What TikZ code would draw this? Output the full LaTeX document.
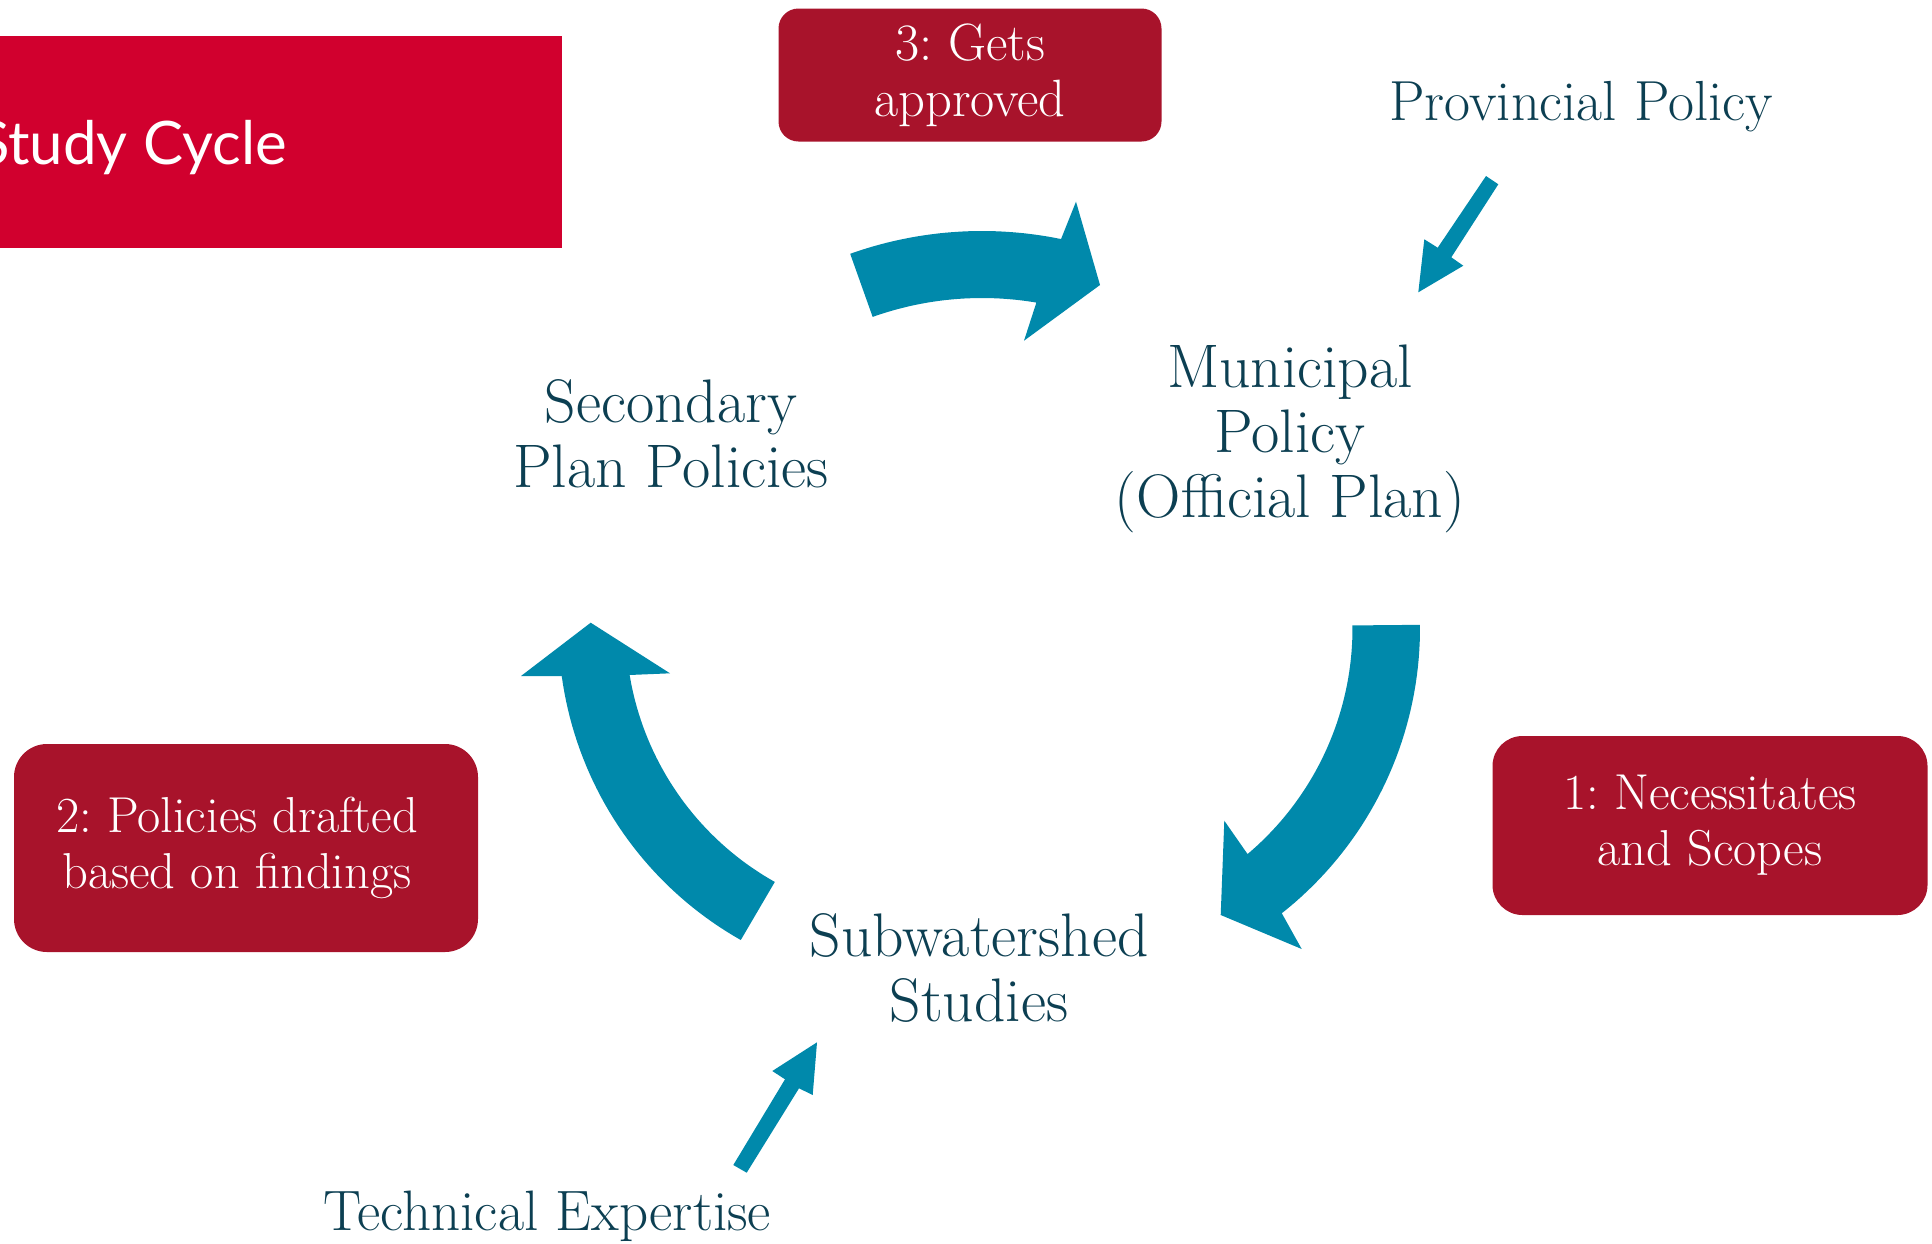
\documentclass[tikz,border=0pt]{standalone}
\usepackage{fontspec}
\newfontfamily\titlefont{Lato}
\definecolor{titlered}{HTML}{D1002E}
\definecolor{boxred}{HTML}{A8132B}
\definecolor{arrowteal}{HTML}{0089AB}
\definecolor{textteal}{HTML}{0C3F52}
\frenchspacing
\tikzset{
  mainlabel/.style={text=textteal, align=center, inner sep=0pt, font=\fontsize{61.5}{65}\selectfont},
  sidelabel/.style={text=textteal, inner sep=0pt},
  stepbox/.style={fill=boxred, text=white, align=center, inner sep=0pt, font=\fontsize{50.5}{56}\selectfont},
  titletext/.style={text=white, inner sep=0pt, font=\titlefont\fontsize{60}{70}\selectfont},
  cyclearrow/.style={fill=arrowteal, draw=none},
  smallarrow/.style={fill=arrowteal, draw=none}
}
\begin{document}
\begin{tikzpicture}[x=1pt, y=-1pt]
\useasboundingbox (0,0) rectangle (1932,1243);

% title banner (clipped at the left page edge)
\begin{scope}
  \clip (0,36) rectangle (562,248);
  \fill[titlered] (0,36) rectangle (562,248);
  \node[titletext, anchor=base east] (title) at (287,164) {Study Cycle};
\end{scope}

% step boxes
\node[stepbox, rounded corners=20pt, minimum width=383pt, minimum height=133pt, font=\fontsize{52.5}{56}\selectfont] (s3) at (970,75) {3: Gets\\approved};
\node[stepbox, rounded corners=30pt, minimum width=435pt, minimum height=179pt] (s1) at (1710,825.5) {1: Necessitates\\and Scopes};
\node[stepbox, rounded corners=33pt, minimum width=464pt, minimum height=208pt] (s2) at (246,848) {2: Policies drafted\hspace*{18pt}\\based on findings\hspace*{18pt}};

% main labels (base anchor = baseline of the last line)
\node[mainlabel, anchor=base] (sec) at (671,487) {Secondary\\Plan Policies};
\node[mainlabel, anchor=base] (mun) at (1290,517) {Municipal\\Policy\\(Official Plan)};
\node[mainlabel, anchor=base] (sub) at (979,1021) {Subwatershed\\Studies};
\node[sidelabel, anchor=base, font=\fontsize{56.5}{60}\selectfont] (prov) at (1581,120) {Provincial Policy};
\node[sidelabel, anchor=base, font=\fontsize{57}{60}\selectfont] (tech) at (547.5,1230) {Technical Expertise};

% cycle arrow: Secondary -> Municipal
\fill[cyclearrow]
  plot[domain=-109.6:-78.4, samples=40] ({982+393*cos(\x)},{624+393*sin(\x)})
  -- (1076,201.7) -- (1100,285) -- (1024,340.7)
  -- plot[domain=-80.4:-109.6, samples=40] ({982+326*cos(\x)},{624+326*sin(\x)})
  -- cycle;

% cycle arrow: Municipal -> Subwatershed
\fill[cyclearrow]
  plot[domain=-0.5:51.7, samples=40] ({1056.5+363.5*cos(\x)},{628+363.5*sin(\x)})
  -- (1301.7,949) -- (1220.7,915) -- (1224.3,820.7)
  -- plot[domain=49.8:-0.5, samples=40] ({1056.5+296*cos(\x)},{628+296*sin(\x)})
  -- cycle;

% cycle arrow: Subwatershed -> Secondary
\fill[cyclearrow]
  plot[domain=119.5:172.2, samples=40] ({917.7+359.3*cos(\x)},{627.3+359.3*sin(\x)})
  -- (521,676) -- (590.7,622.7) -- (670,673.3)
  -- plot[domain=170.6:119.3, samples=40] ({917.7+292*cos(\x)},{627.3+292*sin(\x)})
  -- cycle;

% input arrows
\fill[smallarrow] (1486,176) -- (1437.7,247.7) -- (1424.3,239.3) -- (1418.3,292.3)
  -- (1463.3,265.7) -- (1451.3,257.3) -- (1498.3,184.3) -- cycle;
\fill[smallarrow] (733.3,1165) -- (785,1079.3) -- (772.3,1071) -- (817,1042.3)
  -- (812.7,1095) -- (799,1088.3) -- (746.7,1172.7) -- cycle;
\end{tikzpicture}
\end{document}
